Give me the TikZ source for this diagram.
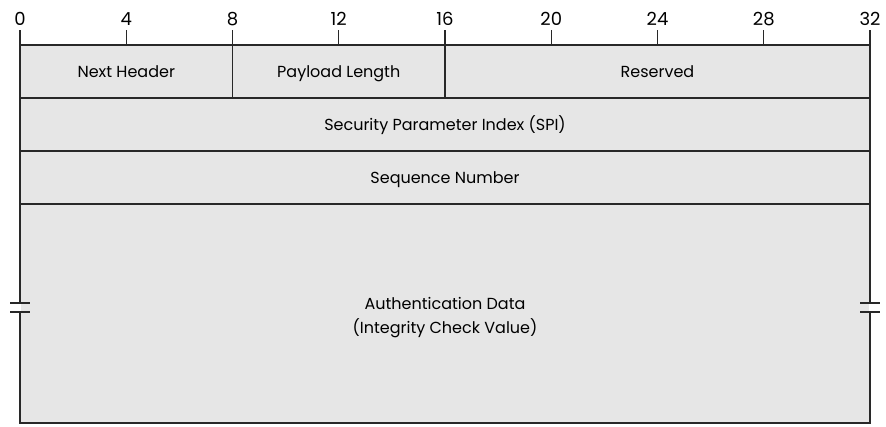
\documentclass[tikz,border=0pt]{standalone}
\usepackage{fontspec}
\setmainfont{Poppins}
\usepackage{xcolor}
\usepackage{tikz}
\usetikzlibrary{calc}
\definecolor{frame}{RGB}{40, 40, 40}
\definecolor{fieldgray}{RGB}{230, 230, 230}

\begin{document}
\begin{tikzpicture}[x=1pt,y=-1pt,
  field/.style={draw=frame,fill=fieldgray,line width=1.4pt,inner sep=0pt,outer sep=0pt,anchor=north west,minimum height=53pt,font=\fontsize{16}{24}\selectfont,text height=15pt,text depth=3pt},
  bitlabel/.style={font=\fontsize{18}{20}\selectfont,inner sep=0pt}]
\useasboundingbox (0,0) rectangle (886,427);
\coordinate (O) at (20,45);
% fields
\node[field,minimum width=212.5pt] (nexthdr) at (O) {Next Header};
\node[field,minimum width=212.5pt] (paylen) at (nexthdr.north east) {Payload Length};
\node[field,minimum width=425pt] (resv) at (paylen.north east) {Reserved};
\node[field,minimum width=850pt] (spi) at (nexthdr.south west) {Security Parameter Index (SPI)};
\node[field,minimum width=850pt] (seqnum) at (spi.south west) {Sequence Number};
\node[field,minimum width=850pt,minimum height=219pt,text height=,text depth=,align=center] (authdata) at (seqnum.south west) {\\[-4pt]Authentication Data\\(Integrity Check Value)};
% bit ruler
\foreach \b in {0,4,...,32}{
  \draw[frame,line width=1.4pt] ($(O)+(\b*26.5625,0)$) -- ++(0,-15);
  \node[bitlabel] (bit\b) at ($(O)+(\b*26.5625,-26)$) {\b};
}
% break marks
\foreach \s in {west,east}{
  \fill[white] ($(authdata.\s)+(-1.2,-10)$) rectangle ($(authdata.\s)+(1.2,-2)$);
  \draw[frame,line width=1.4pt] ($(authdata.\s)+(-10,-10.5)$) -- ++(20,0);
  \draw[frame,line width=1.4pt] ($(authdata.\s)+(-10,-1.5)$) -- ++(20,0);
}
\end{tikzpicture}
\end{document}
